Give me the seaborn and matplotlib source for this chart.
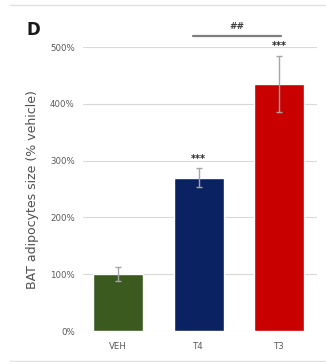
import matplotlib
matplotlib.use("Agg")
import matplotlib.pyplot as plt
from matplotlib.lines import Line2D
import seaborn as sns
import pandas as pd

groups = ["VEH", "T4", "T3"]
size_pct = [100, 270, 435]
sem_pct = [12, 17, 50]
colors = ["#3b5a1f", "#0b2262", "#c80000"]
stars = ["", "***", "***"]
yticks = [0, 100, 200, 300, 400, 500]

sns.set_style("white")
plt.rcParams["font.family"] = ["DejaVu Sans"]

df = pd.DataFrame({"group": groups, "size": size_pct})

fig = plt.figure(figsize=(3.26, 3.62), dpi=100)
ax = fig.add_axes([0.255, 0.0856, 0.717, 0.784])

sns.barplot(data=df, x="group", y="size", hue="group", palette=colors,
            saturation=1, width=0.62, legend=False, ax=ax, errorbar=None,
            zorder=2)
ax.errorbar(range(len(groups)), size_pct, yerr=sem_pct, fmt="none",
            ecolor="#a6a6a6", elinewidth=1, capsize=2.5, capthick=1, zorder=3)

for i, s in enumerate(stars):
    if s:
        ax.text(i, size_pct[i] + sem_pct[i] + 8, s, ha="center", va="bottom",
                fontsize=7, fontweight="bold", color="#262626")

ax.set_ylim(0, 500)
ax.set_xlim(-0.435, 2.47)
ax.set_yticks(yticks)
ax.set_yticklabels([f"{v}%" for v in yticks])
ax.yaxis.grid(True, color="#d9d9d9", linewidth=0.8, zorder=0)
ax.set_axisbelow(True)
for sp in ax.spines.values():
    sp.set_visible(False)
ax.tick_params(axis="both", length=0, labelsize=6.2, labelcolor="#595959", pad=6)
ax.tick_params(axis="x", pad=8)
ax.set_xlabel("")
ax.set_ylabel("BAT adipocytes size (% vehicle)", fontsize=9, color="#505050", labelpad=8)

# T4 vs T3 comparison bracket
ax.plot([0.93, 2.03], [519, 519], color="#7f7f7f", linewidth=1.6, clip_on=False)
ax.text(1.48, 528, "##", ha="center", va="bottom", fontsize=6.5,
        fontweight="bold", color="#404040", clip_on=False)

fig.text(0.082, 0.918, "D", fontsize=12, fontweight="bold", color="#1a1a1a",
         ha="left", va="center")

fig.add_artist(Line2D([0.03, 1.0], [0.985, 0.985], color="#e0e0e0", linewidth=1))
fig.add_artist(Line2D([0.03, 1.0], [0.003, 0.003], color="#e0e0e0", linewidth=1))

fig.savefig("out.png", dpi=100)
